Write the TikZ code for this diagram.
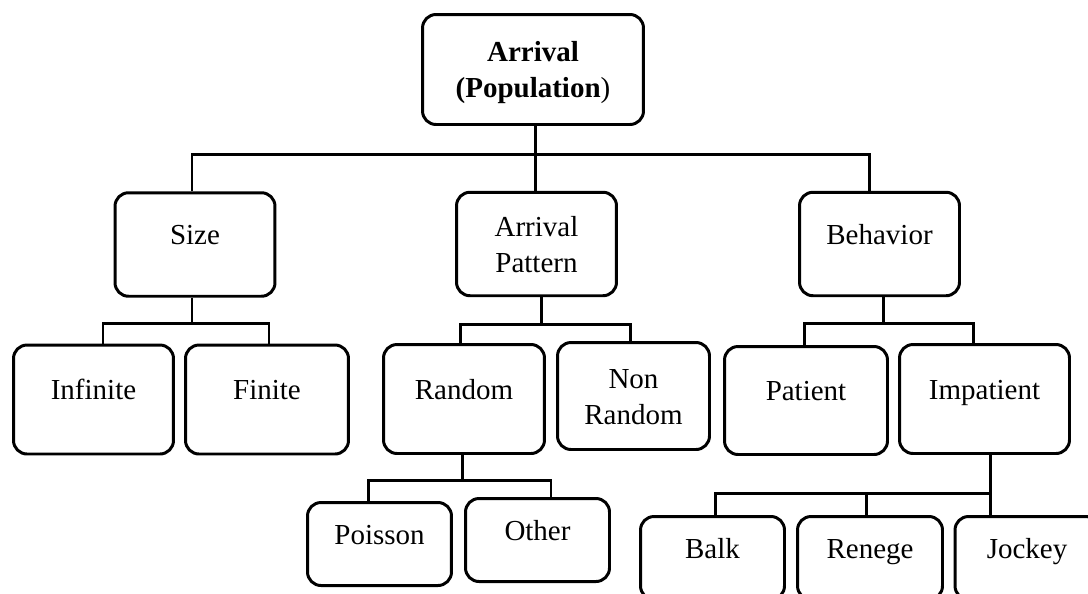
\documentclass[tikz,border=0pt]{standalone}
\usepackage{fontspec}
\setmainfont{Liberation Serif}
\tikzset{
  box/.style={draw, line width=1.7pt, rounded corners=0.27cm, inner sep=0pt,
    text width=2.6cm, align=center, text height=0pt, text depth=0pt,
    font=\fontsize{16.5}{20.5}\selectfont},
  twoline/.style={text depth=0.32cm},
  midrow/.style={box, minimum width=3.2cm, minimum height=2.07cm},
  leafrow/.style={box, minimum width=3.22cm, minimum height=2.18cm},
  lowrow/.style={box, minimum width=2.88cm, minimum height=1.66cm},
  link/.style={line width=1.7pt}
}
\begin{document}
\begin{tikzpicture}[x=0.02cm,y=-0.02cm]

      \useasboundingbox (0,0) rectangle (1088,593);
      \clip (0,0) rectangle (1088,593);

      \node[box, twoline, text width=3.6cm, minimum width=4.42cm, minimum height=2.2cm] (root) at (533,69.5)
        {\textbf{Arrival}\\\textbf{(Population})};

      \node[midrow] (size) at (195,244.5) {Size};
      \node[midrow, twoline] (pattern) at (536.5,244) {Arrival\\Pattern};
      \node[midrow] (behavior) at (879.5,244) {Behavior};

      \node[leafrow, minimum width=3.2cm] (infinite) at (93.5,399.5) {Infinite};
      \node[leafrow, minimum width=3.26cm] (finite) at (267,399.5) {Finite};
      \node[leafrow] (random) at (464,399) {Random};
      \node[leafrow, twoline, minimum width=3.04cm, minimum height=2.14cm] (nonrandom) at (633.5,396) {Non\\Random};
      \node[leafrow, minimum width=3.26cm, minimum height=2.16cm] (patient) at (806,400.5) {Patient};
      \node[leafrow, minimum width=3.4cm] (impatient) at (984.5,399) {Impatient};

      \node[lowrow] (poisson) at (379.5,544) {Poisson};
      \node[lowrow] (other) at (537.5,540) {Other};
      \node[lowrow] (balk) at (712.5,558) {Balk};
      \node[lowrow, minimum width=2.9cm] (renege) at (870,558) {Renege};
      \node[lowrow] (jockey) at (1027,558) {Jockey};

      \coordinate (busA) at (535,154);
      \draw[link] (root.south -| busA) -- (busA);
      \draw[link] ([xshift=-0.06cm]size.north) |- (busA) -| ([xshift=-0.21cm]behavior.north);
      \draw[link] (pattern.north -| busA) -- (busA);

      \coordinate (busB) at (192,323);
      \draw[link] (size.south -| busB) -- (busB);
      \draw[link] ([xshift=0.19cm]infinite.north) |- (busB) -| ([xshift=0.04cm]finite.north);

      \coordinate (busC) at (541,324);
      \draw[link] (pattern.south -| busC) -- (busC);
      \draw[link] ([xshift=-0.08cm]random.north) |- (busC) -| ([xshift=-0.07cm]nonrandom.north);

      \coordinate (busD) at (883,323);
      \draw[link] (behavior.south -| busD) -- (busD);
      \draw[link] ([xshift=-0.04cm]patient.north) |- (busD) -| ([xshift=-0.23cm]impatient.north);

      \coordinate (busE) at (462,480);
      \draw[link] (random.south -| busE) -- (busE);
      \draw[link] ([xshift=-0.23cm]poisson.north) |- (busE) -| ([xshift=0.27cm]other.north);

      \coordinate (busF) at (990,493);
      \draw[link] (impatient.south -| busF) -- (jockey.north -| busF);
      \draw[link] ([xshift=0.05cm]balk.north) |- (busF);
      \draw[link] ([xshift=-0.08cm]renege.north) -- ([xshift=-0.08cm]renege.north |- busF);

    \end{tikzpicture}
\end{document}
